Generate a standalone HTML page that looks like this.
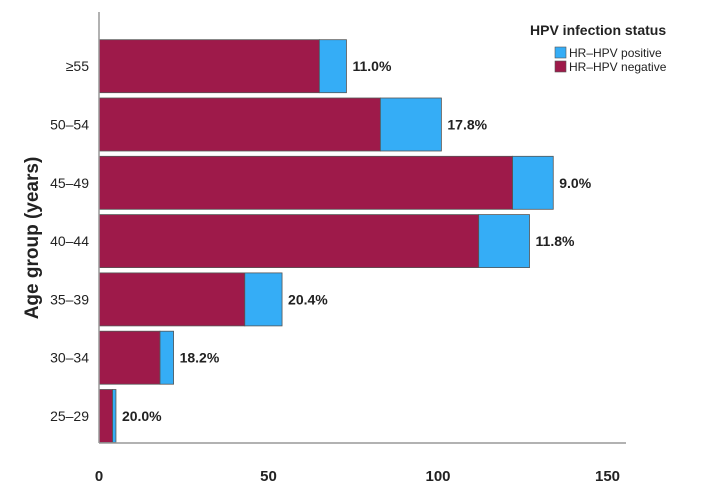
<!DOCTYPE html>
<html><head><meta charset="utf-8"><style>
body{margin:0;background:#fff;}
svg{display:block;font-family:"Liberation Sans","DejaVu Sans",sans-serif;}
</style></head><body>
<svg id="chart" width="720" height="491"></svg>
<script>
const categories = ["25–29","30–34","35–39","40–44","45–49","50–54","≥55"];
const negativeValues = [4,18,43,112,122,83,65];
const positiveValues = [1,4,11,15,12,18,8];
const xTicks = [0,50,100,150];

const svg = document.getElementById('chart');
const NS = 'http://www.w3.org/2000/svg';
const x0 = 99, xScale = 3.39;
const xPos = v => x0 + v * xScale;
const topY = 12, bottomY = 443;
const band = 58.3, barH = 53;
const yCenter = i => 416 - i * band;
function el(tag, attrs, parent){
  const e = document.createElementNS(NS, tag);
  for (const k in attrs) e.setAttribute(k, attrs[k]);
  (parent || svg).appendChild(e);
  return e;
}
const NEG = '#9e1a4a', POS = '#35adf6', STROKE = '#555';

categories.forEach((c, i) => {
  const yc = yCenter(i);
  const n = negativeValues[i], p = positiveValues[i];
  const r1 = el('rect', {x:xPos(0), y:yc-barH/2, width:xPos(n)-xPos(0), height:barH, fill:NEG, stroke:STROKE, 'stroke-width':0.8});
  
  
  const r2 = el('rect', {x:xPos(n), y:yc-barH/2, width:xPos(n+p)-xPos(n), height:barH, fill:POS, stroke:STROKE, 'stroke-width':0.8});
  
  
  const pct = (p / (n + p) * 100).toFixed(1) + '%';
  const t = el('text', {x:xPos(n+p)+6, y:yc+5, 'font-size':14, 'font-weight':'bold', fill:'#222'});
  t.textContent = pct;
  
  
  const cl = el('text', {x:89, y:yc+5, 'font-size':14, 'text-anchor':'end', fill:'#222'});
  cl.textContent = c;
  
  
});

const ya = el('line', {x1:x0, y1:topY, x2:x0, y2:bottomY, stroke:'#999', 'stroke-width':1.5});


const xa = el('line', {x1:x0, y1:bottomY, x2:626, y2:bottomY, stroke:'#999', 'stroke-width':1.5});



xTicks.forEach((v, i) => {
  const t = el('text', {x:xPos(v), y:481, 'font-size':15, 'font-weight':'bold', 'text-anchor':'middle', fill:'#222'});
  t.textContent = v;
  
  
});

const yt = el('text', {x:0, y:0, 'font-size':19, 'font-weight':'bold', 'text-anchor':'middle', fill:'#222', transform:'translate(38,238) rotate(-90)'});
yt.textContent = 'Age group (years)';



const lg = el('g', {});


const lt = el('text', {x:530, y:35, 'font-size':14, 'font-weight':'bold', fill:'#222'}, lg);
lt.textContent = 'HPV infection status';


[[POS,'HR–HPV positive'],[NEG,'HR–HPV negative']].forEach((d, i) => {
  const s = el('rect', {x:555, y:47+i*14, width:11, height:11, fill:d[0], stroke:STROKE, 'stroke-width':0.6}, lg);
  
  
  const t = el('text', {x:569, y:57+i*14, 'font-size':12, fill:'#222'}, lg);
  t.textContent = d[1];
  
  
});
</script>
</body></html>
